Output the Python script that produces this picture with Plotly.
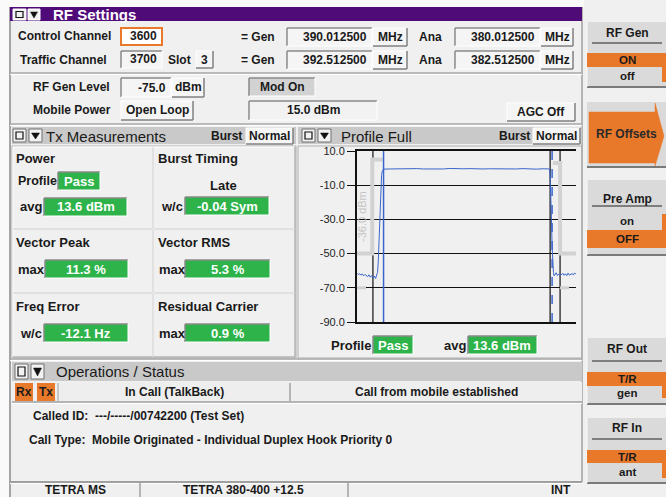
import plotly.graph_objects as go

W, H = 666, 497
F = "Liberation Sans"

# ---------------- data ----------------
ytick_vals = [10, -10, -30, -50, -70, -90]
ytick_text = ["10.0", "-10.0", "-30.0", "-50.0", "-70.0", "-90.0"]
x_range = [-40, 290]   # symbols
y_range = [-90, 10]    # dBm (relative)

pre_x = [-40, -38, -36, -34, -32, -30, -28, -26, -24, -22, -20, -18, -16, -14, -12, -10]
pre_y = [-61.5, -62.3, -61.8, -62.6, -61.9, -63.0, -62.2, -62.8, -63.5, -62.4, -63.8, -62.9, -64.2, -63.1, -64.6, -62.0]
rise_x = [-9, -8, -7, -6, -5, -4, -3, -2, -1]
rise_y = [-61, -55, -44, -31, -19, -10, -4.5, -1.8, -0.7]
flat_x = [0, 10, 20, 30, 40, 50, 60, 70, 80, 90, 100, 110, 120, 130, 140, 150, 160, 170, 180, 190, 200, 210, 220, 230, 240, 250]
flat_y = [-0.6, -0.5, -0.4, -0.6, -0.5, -0.3, -0.5, -0.6, -0.4, -0.5, -0.2, -0.5, -0.4, -0.3, -0.6, -0.5, -0.4, -0.5, -0.6, -0.4, -0.5, -0.3, -0.5, -0.6, -0.4, -0.5]
fall_x = [251, 252, 253, 254, 255, 256, 257]
fall_y = [-4, -14, -30, -46, -56, -61, -63]
post_x = [258, 260, 262, 264, 266, 268, 270, 272, 274, 276, 278, 280, 282, 284, 286, 288, 290]
post_y = [-62.5, -61.2, -62.8, -61.9, -63.0, -62.1, -61.5, -62.7, -61.8, -62.9, -61.4, -62.6, -62.0, -61.7, -62.4, -61.3, -62.2]

mask_l_x = [-40, -17, -17, -1]
mask_l_y = [-50, -50, 5, 5]
mask_r_x = [255, 266, 266, 290]
mask_r_y = [3, 3, -50, -50]
lim_l_x = [-40, -18]
lim_r_x = [266, 290]
lim_y = -70
window_x = [-16, 251, 266]
burst_start_x = 0
burst_end_x = 254
mask_label = "-36.0 dBm"

profile_result = "Pass"
power_avg = "13.6 dBm"
burst_timing = "-0.04 Sym"
vector_peak = "11.3 %"
vector_rms = "5.3 %"
freq_error = "-12.1 Hz"
residual_carrier = "0.9 %"

# ---------------- colours ----------------
BG = "#f0f0f0"
PURPLE = "#4f0b78"
ORANGE = "#e8782a"
GREEN = "#2db34a"
HDR = "#c9c9c9"
KEY = "#dadada"
TXT = "#1a1a1a"
BLUE = "#3a66cc"
MASK = "#d2d2d2"

shapes = []
ann = []


def fx(x):
    return x / W


def fy(y):
    return 1 - y / H


def R(x0, y0, x1, y1, fill=None, lc=None, lw=1):
    shapes.append(dict(type="rect", xref="paper", yref="paper", x0=fx(x0), x1=fx(x1),
                       y0=fy(y1), y1=fy(y0), fillcolor=fill or "rgba(0,0,0,0)",
                       line=dict(color=lc or "rgba(0,0,0,0)", width=lw if lc else 0),
                       layer="below"))


def L(x0, y0, x1, y1, c="#909090", lw=1):
    shapes.append(dict(type="line", xref="paper", yref="paper", x0=fx(x0), x1=fx(x1),
                       y0=fy(y0), y1=fy(y1), line=dict(color=c, width=lw), layer="below"))


def P(pts, fill, lc=None):
    d = "M " + " L ".join(f"{fx(x)},{fy(y)}" for x, y in pts) + " Z"
    shapes.append(dict(type="path", xref="paper", yref="paper", path=d, fillcolor=fill,
                       line=dict(color=lc or fill, width=0.5), layer="below"))


def T(x, y, s, size=12, color=TXT, anchor="left", bold=True, angle=0):
    ann.append(dict(x=fx(x), y=fy(y), xref="paper", yref="paper",
                    text=f"<b>{s}</b>" if bold else s, showarrow=False,
                    xanchor=anchor, yanchor="middle", textangle=angle, borderpad=0,
                    font=dict(family=F, size=size, color=color)))


def inset(x0, y0, x1, y1, fill="#f5f5f5"):
    R(x0, y0, x1, y1, fill)
    L(x0, y0, x1, y0, "#8a8a8a", 1.5)
    L(x0, y0, x0, y1, "#8a8a8a", 1.5)
    L(x0, y1, x1, y1, "#ffffff", 1)
    L(x1, y0, x1, y1, "#ffffff", 1)


def button(x0, y0, x1, y1, fill="#f5f5f5"):
    R(x0, y0, x1, y1, fill)
    L(x0, y0, x1, y0, "#ffffff", 1)
    L(x0, y0, x0, y1, "#ffffff", 1)
    L(x0, y1, x1, y1, "#808080", 1.5)
    L(x1, y0, x1, y1, "#808080", 1.5)


def vbox(x0, y0, x1, y1, s, align="right", fill="#f5f5f5", color=TXT, size=12):
    inset(x0, y0, x1, y1, fill)
    yc = (y0 + y1) / 2
    if align == "right":
        T(x1 - 4, yc, s, size, color, "right")
    else:
        T((x0 + x1) / 2, yc, s, size, color, "center")


def gbox(x0, y0, x1, y1, s):
    vbox(x0, y0, x1, y1, s, "center", GREEN, "#ffffff", 13)


def icons(x, y0, y1):
    R(x, y0, x + 13, y1, "#f2f2f2", "#707070", 1)
    R(x + 3, y0 + 3, x + 10, y1 - 3, None, "#111111", 1.2)
    R(x + 16, y0, x + 29, y1, "#f2f2f2", "#707070", 1)
    P([(x + 18.5, y0 + 4), (x + 26.5, y0 + 4), (x + 22.5, y1 - 3)], "#111111")


def sep(y, x0=10, x1=582):
    L(x0, y, x1, y, "#a8a8a8", 1.5)
    L(x0, y + 1.5, x1, y + 1.5, "#ffffff", 1)


# ---------------- page background ----------------
R(0, 0, 584, 7, "#fafafa")
R(0, 0, 10, 497, "#fafafa")
L(10, 7, 10, 497, "#8a8a8a", 1.5)
L(582, 7, 582, 482, "#a0a0a0", 1.5)

# ---------------- RF settings ----------------
R(10, 7, 582, 21, PURPLE)
R(13, 9, 26, 20, "#f0f0f0", "#ffffff", 1)
R(16, 11.5, 23, 17.5, None, "#111111", 1.2)
R(28, 9, 40, 20, "#f0f0f0", "#ffffff", 1)
P([(30.5, 12), (37.5, 12), (34, 18)], "#111111")
T(52, 14.5, "RF Settings", 15, "#ffffff")

T(17, 36, "Control Channel")
R(121, 28, 162, 45, "#ffffff", ORANGE, 2)
T(158, 36.5, "3600", 12, TXT, "right")
T(258, 37, "= Gen", 12, TXT, "center")
vbox(287, 28, 372, 46, "390.012500")
button(373, 28, 407, 46)
T(390, 37, "MHz", 12, TXT, "center")
T(430, 37, "Ana", 12, TXT, "center")
vbox(455, 28, 540, 46, "380.012500")
button(541, 28, 573, 46)
T(557, 37, "MHz", 12, TXT, "center")

T(19, 60, "Traffic Channel")
vbox(121, 51, 162, 68, "3700")
T(167, 60, "Slot")
button(196, 51, 213, 68)
T(204.5, 60, "3", 12, TXT, "center")
T(258, 60, "= Gen", 12, TXT, "center")
vbox(287, 51, 372, 69, "392.512500")
button(373, 51, 407, 69)
T(390, 60, "MHz", 12, TXT, "center")
T(430, 60, "Ana", 12, TXT, "center")
vbox(455, 51, 540, 69, "382.512500")
button(541, 51, 573, 69)
T(557, 60, "MHz", 12, TXT, "center")

sep(73)

T(32, 87, "RF Gen Level")
vbox(121, 78, 171, 97, "-75.0")
button(172, 78, 204, 97)
T(188, 87, "dBm", 12, TXT, "center")
inset(249, 78, 315, 96, "#d2d2d2")
T(282, 87, "Mod On", 12, TXT, "center")

T(32, 110, "Mobile Power")
button(121, 101, 193, 120)
T(157, 110.5, "Open Loop", 12, TXT, "center")
inset(249, 101, 377, 120, "#f2f2f2")
T(313, 110.5, "15.0 dBm", 12, TXT, "center")
button(507, 103, 575, 121)
T(541, 112, "AGC Off", 12, TXT, "center")

sep(124)

# ---------------- Tx Measurements panel ----------------
R(12, 127, 296, 144, HDR)
icons(13, 129, 142)
T(45, 136, "Tx Measurements", 15, TXT, "left", bold=False)
T(243, 136, "Burst", 12, TXT, "right")
button(246, 128, 293, 144)
T(269.5, 136, "Normal", 12, TXT, "center")

R(12, 146, 296, 358, None, "#b0b0b0", 1)
for (cx0, cy0, cx1, cy1) in [(13, 147, 153, 229), (153, 147, 295, 229),
                             (13, 229, 153, 293), (153, 229, 295, 293),
                             (13, 293, 153, 357), (153, 293, 295, 357)]:
    L(cx0, cy0, cx1, cy0, "#ffffff", 1)
    L(cx0, cy0, cx0, cy1, "#ffffff", 1)
    L(cx0, cy1, cx1, cy1, "#b4b4b4", 1.5)
    L(cx1, cy0, cx1, cy1, "#b4b4b4", 1.5)

T(15, 158, "Power", 13)
T(17, 181, "Profile", 12.5)
gbox(58, 172, 100, 190, profile_result)
T(19, 207, "avg", 13)
gbox(44, 198, 127, 216, power_avg)

T(157, 158, "Burst Timing", 13)
T(223, 185, "Late", 13, TXT, "center")
T(160, 206, "w/c", 13)
gbox(185, 197, 269, 215, burst_timing)

T(15, 242, "Vector Peak", 13)
T(17, 269, "max", 13)
gbox(45, 260, 128, 278, vector_peak)
T(157, 242, "Vector RMS", 13)
T(158, 269, "max", 13)
gbox(185, 260, 270, 278, vector_rms)

T(15, 306, "Freq Error", 13)
T(19, 333, "w/c", 13)
gbox(44, 324, 128, 342, freq_error)
T(157, 306, "Residual Carrier", 13)
T(158, 333, "max", 13)
gbox(185, 324, 270, 342, residual_carrier)

# ---------------- Profile Full panel ----------------
R(298, 127, 582, 144, HDR)
icons(302, 129, 142)
T(340, 136, "Profile Full", 15, TXT, "left", bold=False)
T(531, 136, "Burst", 12, TXT, "right")
button(533, 128, 580, 144)
T(556.5, 136, "Normal", 12, TXT, "center")
R(298, 146, 582, 358, None, "#b0b0b0", 1)
T(330, 345, "Profile", 13)
gbox(373, 336, 413, 354, profile_result)
T(443, 345, "avg", 13)
gbox(468, 336, 537, 354, power_avg)

# ---------------- Operations / Status ----------------
sep(359)
R(12, 362, 582, 381, HDR)
icons(15, 364, 379)
T(55, 371.5, "Operations / Status", 15, TXT, "left", bold=False)
R(12, 382, 582, 402, "#eeeeee")
L(12, 402, 582, 402, "#a0a0a0", 1.5)
L(12, 403.5, 582, 403.5, "#ffffff", 1)
R(15, 383, 33, 401, ORANGE)
T(24, 392, "Rx", 12, TXT, "center")
R(37, 383, 55, 401, ORANGE)
T(46, 392, "Tx", 12, TXT, "center")
L(58, 383, 58, 401, "#a0a0a0", 1)
L(290, 383, 290, 401, "#a0a0a0", 1.5)
T(174, 392, "In Call (TalkBack)", 12, TXT, "center")
T(436, 392, "Call from mobile established", 12, TXT, "center")
T(32, 416, "Called ID:  ---/-----/00742200 (Test Set)", 12)
T(28, 440, "Call Type:  Mobile Originated - Individual Duplex Hook Priority 0", 12)

# status bar
L(10, 482, 582, 482, "#a0a0a0", 2)
L(10, 483.5, 582, 483.5, "#ffffff", 1)
L(140, 483, 140, 497, "#a0a0a0", 1.5)
L(348, 483, 348, 497, "#a0a0a0", 1.5)
T(75, 490, "TETRA MS", 12, TXT, "center")
T(243, 490, "TETRA 380-400 +12.5", 12, TXT, "center")
T(561, 490, "INT", 12, TXT, "center")


# ---------------- soft keys ----------------
def softkey(y0, y1, title, yt, yline, opts, band, tab):
    R(587, y0, 666, y1, KEY)
    L(587, y1, 666, y1, "#7a7a7a", 2)
    L(587, y0, 587, y1, "#f8f8f8", 1)
    T(627, yt, title, 12, TXT, "center")
    L(592, yline, 662, yline, "#222222", 1.2)
    R(587, band[0], 666, band[1], ORANGE)
    R(662, tab[0], 666, tab[1], ORANGE)
    for (txt, yy) in opts:
        T(627, yy, txt, 11.5, TXT, "center")


softkey(22, 87, "RF Gen", 33, 43, [("ON", 60.5), ("off", 75.5)], (53, 67), (53, 82))
R(587, 102, 666, 167, KEY)
L(587, 167, 666, 167, "#7a7a7a", 2)
P([(589, 112), (655, 112), (655, 103), (664, 136), (655, 166), (655, 163), (589, 163)], ORANGE)
T(626, 134, "RF Offsets", 12, "#2a2a2a", "center")
softkey(180, 255, "Pre Amp", 199, 206, [("on", 221), ("OFF", 239)], (230, 248), (214, 248))
softkey(338, 404, "RF Out", 349, 361, [("T/R", 378.5), ("gen", 393)], (372, 386), (372, 398))
softkey(418, 483, "RF In", 428, 439, [("T/R", 456.5), ("ant", 472)], (450, 463), (450, 478))

# ---------------- plot traces ----------------
fig = go.Figure()
for wx in window_x:
    fig.add_trace(go.Scatter(x=[wx, wx], y=y_range, mode="lines",
                             line=dict(color="#111111", width=1.2), hoverinfo="skip"))
fig.add_trace(go.Scatter(x=mask_l_x, y=mask_l_y, mode="lines",
                         line=dict(color=MASK, width=4), hoverinfo="skip"))
fig.add_trace(go.Scatter(x=mask_r_x, y=mask_r_y, mode="lines",
                         line=dict(color=MASK, width=4), hoverinfo="skip"))
fig.add_trace(go.Scatter(x=lim_l_x, y=[lim_y, lim_y], mode="lines",
                         line=dict(color=MASK, width=3, dash="dash"), hoverinfo="skip"))
fig.add_trace(go.Scatter(x=lim_r_x, y=[lim_y, lim_y], mode="lines",
                         line=dict(color=MASK, width=3, dash="dash"), hoverinfo="skip"))
fig.add_trace(go.Scatter(x=[burst_start_x, burst_start_x], y=y_range, mode="lines",
                         line=dict(color=BLUE, width=1.5), hoverinfo="skip"))
fig.add_trace(go.Scatter(x=[burst_end_x, burst_end_x], y=y_range, mode="lines",
                         line=dict(color=BLUE, width=1.5, dash="dash"), hoverinfo="skip"))
fig.add_trace(go.Scatter(x=pre_x + rise_x + flat_x + fall_x + post_x,
                         y=pre_y + rise_y + flat_y + fall_y + post_y, mode="lines",
                         line=dict(color=BLUE, width=1), hoverinfo="skip"))

ann.append(dict(x=-32.5, y=-28, xref="x", yref="y", text=mask_label, showarrow=False,
                textangle=-90, font=dict(family=F, size=11, color="#c4c4c4"),
                xanchor="center", yanchor="middle"))

fig.update_layout(
    width=W, height=H, autosize=False,
    margin=dict(l=0, r=0, t=0, b=0, pad=0),
    paper_bgcolor=BG, plot_bgcolor="rgba(0,0,0,0)",
    showlegend=False,
    shapes=shapes, annotations=ann,
    xaxis=dict(domain=[357 / W, 576 / W], range=x_range, showgrid=False, zeroline=False,
               showticklabels=False, ticks="", showline=True, mirror=True,
               linecolor="#111111", linewidth=1.5, fixedrange=True, automargin=False),
    yaxis=dict(domain=[1 - 322 / H, 1 - 151 / H], range=y_range, tickvals=ytick_vals,
               ticktext=ytick_text, showgrid=True, gridcolor="#111111", gridwidth=1.2,
               zeroline=False, ticks="outside", ticklen=8, tickcolor="#111111",
               showline=True, linecolor="#111111", linewidth=2, automargin=False,
               tickfont=dict(family=F, size=11, color="#222222"), fixedrange=True),
)

fig.write_html("out.html", config={"displayModeBar": False},
               post_script="document.body.style.margin='0';document.body.style.padding='0';"
                           "document.body.style.overflow='hidden';")
